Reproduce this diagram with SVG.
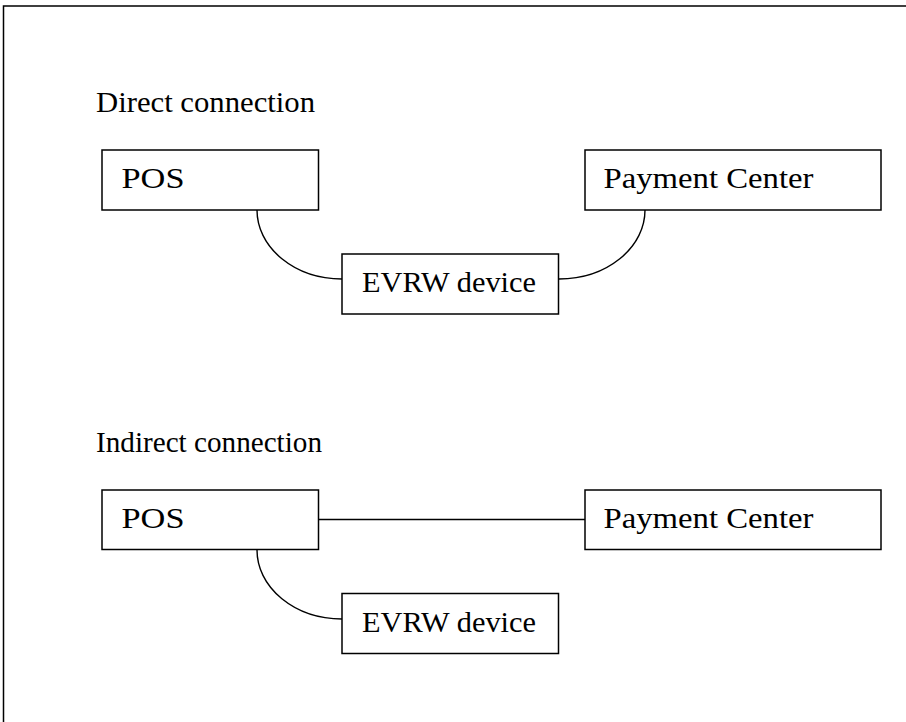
<svg xmlns="http://www.w3.org/2000/svg" width="906" height="722" viewBox="0 0 906 722">
<style>
.box{fill:#fff;stroke:#000;stroke-width:1.5}
.t{font-family:"Liberation Serif","DejaVu Serif",serif;font-size:29px;fill:#000}
.c{fill:none;stroke:#000;stroke-width:1.4}
</style>
<rect x="0" y="0" width="906" height="722" fill="#fff"/>
<rect x="3.5" y="6" width="1000" height="1000" fill="none" stroke="#000" stroke-width="1.5"/>
<text class="t" x="96" y="111.5" textLength="219" lengthAdjust="spacingAndGlyphs">Direct connection</text>
<text class="t" x="96" y="451.5" textLength="226" lengthAdjust="spacingAndGlyphs">Indirect connection</text>
<g id="connectors">
<path class="c" d="M257,210 A85,69 0 0 0 342,279"/>
<path class="c" d="M645,210 A86,69 0 0 1 559,279"/>
<path class="c" d="M318.5,519.5 H585"/>
<path class="c" d="M257,550 A85,69 0 0 0 342,619"/>
</g>
<g id="pos1"><rect class="box" x="102" y="150" width="216.5" height="60"/><text class="t" x="121.5" y="188" textLength="63" lengthAdjust="spacingAndGlyphs">POS</text></g>
<g id="evrw1"><rect class="box" x="342" y="254" width="216.5" height="60"/><text class="t" x="362" y="292" textLength="174" lengthAdjust="spacingAndGlyphs">EVRW device</text></g>
<g id="pay1"><rect class="box" x="585" y="150" width="296" height="60"/><text class="t" x="603.5" y="188" textLength="210" lengthAdjust="spacingAndGlyphs">Payment Center</text></g>
<g id="pos2"><rect class="box" x="102" y="490" width="216.5" height="59.5"/><text class="t" x="121.5" y="528" textLength="63" lengthAdjust="spacingAndGlyphs">POS</text></g>
<g id="pay2"><rect class="box" x="585" y="490" width="296" height="59.5"/><text class="t" x="603.5" y="528" textLength="210" lengthAdjust="spacingAndGlyphs">Payment Center</text></g>
<g id="evrw2"><rect class="box" x="342" y="593.5" width="216.5" height="60"/><text class="t" x="362" y="631.5" textLength="174" lengthAdjust="spacingAndGlyphs">EVRW device</text></g>
</svg>
